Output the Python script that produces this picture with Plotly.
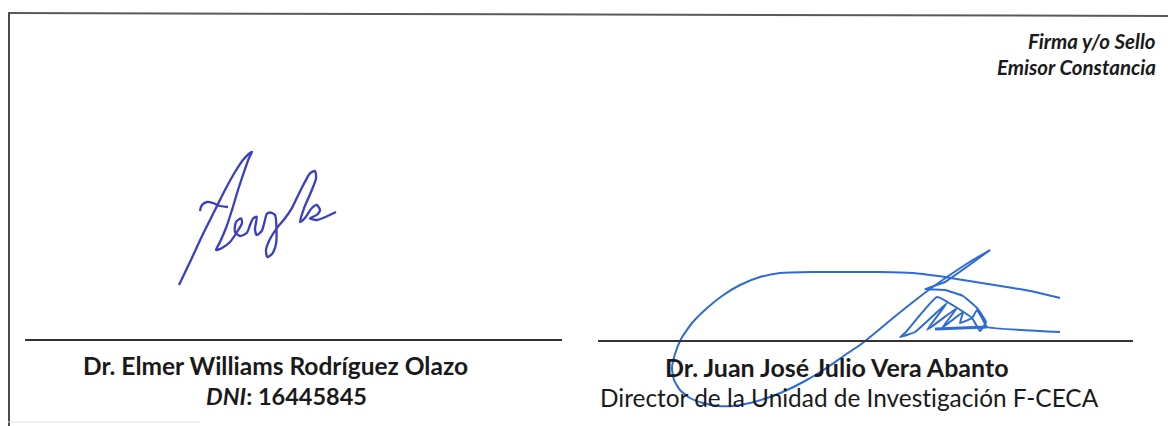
import plotly.graph_objects as go

W, H = 1176, 426
PAD = 8  # default page body margin of the HTML page

# ---- text content ----
header_lines = ["Firma y/o Sello", "Emisor Constancia"]
left_name = "Dr. Elmer Williams Rodríguez Olazo"
left_id_label = "DNI"
left_id_value = "16445845"
right_name = "Dr. Juan José Julio Vera Abanto"
right_role = "Director de la Unidad de Invest\u200cigación F-CECA"

# ---- signature strokes (pen paths, in page pixel coordinates) ----
sig_left_x = [179, 190, 203, 215, 225, 235, 243, 250, 252, 249, 244, 238, 232, 226, 220, 216, 222, 230, 237, 242,
              241, 236, 235, 240, 246.7, 250, 253.3, 256.7, 255, 256.7, 261.7, 265, 266.7, 270, 275, 276.5, 276,
              272, 267.3, 266, 270, 276.7, 285, 291.7, 296.7, 303.3, 310, 315, 316, 311, 304, 300, 305, 311.7,
              316.7, 320, 316.7, 310, 316.7, 326, 336]
sig_left_y = [285, 262, 234, 210, 190, 172, 160, 153, 152, 158, 172, 190, 210, 228, 242, 250, 248, 242, 232, 223,
              218.3, 222, 232, 236, 233, 225, 218.3, 216.7, 229, 235, 231, 220, 214, 212.5, 215, 230, 244,
              254, 257, 250, 239, 228.3, 218.3, 208.3, 198.3, 185, 173.3, 171, 178.3, 192, 208.3, 222, 218, 208.3,
              205, 210, 215, 218.3, 220, 216.7, 212]
sig_left_bar_x = [200, 202, 207, 213, 220, 228]
sig_left_bar_y = [211, 205, 202, 203, 206, 207]

sig_right_loop_x = [1060, 1035, 1013, 988, 963, 938, 913, 880, 847, 813, 780, 760, 740, 722, 706, 692, 681, 675, 672, 674,
                    680, 690, 703, 718, 733, 750, 767, 785, 805, 825, 845, 860, 875, 893, 913, 930, 947, 968, 990]
sig_right_loop_y = [298, 292, 288, 284, 280, 276, 273, 272, 272, 272, 273, 277, 285, 296, 309, 323, 339, 354, 368, 380,
                    390, 398, 403, 406, 406, 403, 398, 391, 381, 369, 355, 345, 333, 318, 302, 289, 277, 263, 250]
sig_right_hatch_x = [990, 945, 925, 945, 963, 977, 986, 980, 972, 937, 905, 900, 915, 947, 927, 957, 942, 963, 960, 972, 977, 983, 987, 1060]
sig_right_hatch_y = [250, 282, 289, 290, 296, 308, 322, 331, 318, 297, 333, 337, 332, 303, 330, 308, 328, 312, 323, 318, 310, 320, 327, 332]
sig_right_base_x = [935, 960, 987]
sig_right_base_y = [329, 328, 327]

fig = go.Figure()

LEFT_INK = "#3a3ec2"
RIGHT_INK = "#2e6bd6"
fig.add_trace(go.Scatter(x=sig_left_x, y=sig_left_y, mode="lines", line=dict(color=LEFT_INK, width=2.3, shape="spline", smoothing=0.7), hoverinfo="skip"))
fig.add_trace(go.Scatter(x=sig_left_bar_x, y=sig_left_bar_y, mode="lines", line=dict(color=LEFT_INK, width=2.3, shape="spline"), hoverinfo="skip"))
fig.add_trace(go.Scatter(x=sig_right_loop_x, y=sig_right_loop_y, mode="lines", line=dict(color=RIGHT_INK, width=2, shape="spline", smoothing=0.5), hoverinfo="skip"))
fig.add_trace(go.Scatter(x=sig_right_hatch_x, y=sig_right_hatch_y, mode="lines", line=dict(color=RIGHT_INK, width=2, shape="spline", smoothing=0.3), hoverinfo="skip"))
fig.add_trace(go.Scatter(x=sig_right_base_x, y=sig_right_base_y, mode="lines", line=dict(color=RIGHT_INK, width=3), hoverinfo="skip"))

shapes = [
    dict(type="line", x0=PAD, y0=13, x1=W, y1=16, line=dict(color="#5a5a5a", width=2)),
    dict(type="line", x0=PAD + 1, y0=13, x1=PAD + 1, y1=H, line=dict(color="#4a4a4a", width=2)),
    dict(type="line", x0=PAD, y0=422, x1=200, y1=422, line=dict(color="#e2e2e2", width=1)),
    dict(type="line", x0=1172, y0=300, x1=1172, y1=H, line=dict(color="#eeeeee", width=1)),
    dict(type="line", x0=25, y0=340, x1=562, y1=340, line=dict(color="#333333", width=2)),
    dict(type="line", x0=598, y0=341, x1=1133, y1=341, line=dict(color="#333333", width=2)),
]

F = "Lato"
TXT = "#1a1a1a"
ann = [
    dict(x=1158, y=41, text="<b><i>%s</i></b>" % header_lines[0], xanchor="right", yanchor="middle", font=dict(size=20.5, color=TXT, family=F)),
    dict(x=1158, y=67, text="<b><i>%s</i></b>" % header_lines[1], xanchor="right", yanchor="middle", font=dict(size=20.5, color=TXT, family=F)),
    dict(x=275, y=365, text="<b>%s</b>" % left_name, xanchor="center", yanchor="middle", font=dict(size=24.5, color=TXT, family=F)),
    dict(x=286, y=396, text="<b><i>%s</i>: %s</b>" % (left_id_label, left_id_value), xanchor="center", yanchor="middle", font=dict(size=23.5, color=TXT, family=F)),
    dict(x=837, y=367, text="<b>%s</b>" % right_name, xanchor="center", yanchor="middle", font=dict(size=25, color=TXT, family=F)),
    dict(x=849, y=397, text=right_role, xanchor="center", yanchor="middle", font=dict(size=24.4, color=TXT, family=F)),
]
for a in ann:
    a.update(xref="x", yref="y", showarrow=False)

fig.update_layout(
    width=W - PAD, height=H - PAD, margin=dict(l=0, r=0, t=0, b=0),
    paper_bgcolor="white", plot_bgcolor="white", showlegend=False,
    xaxis=dict(range=[PAD, W], visible=False, fixedrange=True),
    yaxis=dict(range=[H, PAD], visible=False, fixedrange=True),
    shapes=shapes, annotations=ann,
)

fig.write_html("out.html", config={"displayModeBar": False})
